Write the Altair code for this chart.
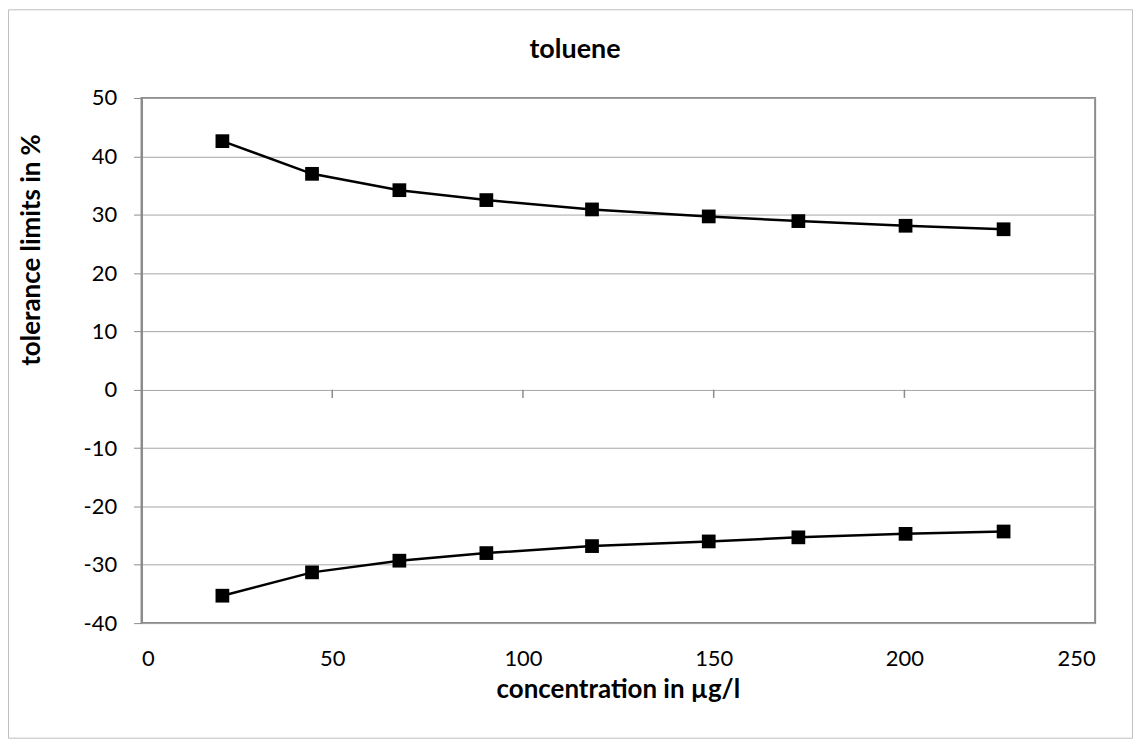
import altair as alt
import pandas as pd

concentration = [21.2, 44.7, 67.6, 90.4, 118.1, 148.7, 172.2, 200.3, 226.0]
upper_limit = [42.6, 37.0, 34.2, 32.5, 30.9, 29.7, 28.9, 28.1, 27.5]
lower_limit = [-35.3, -31.3, -29.3, -28.0, -26.8, -26.0, -25.3, -24.7, -24.3]
x_ticks = [0, 50, 100, 150, 200, 250]
y_ticks = [-40, -30, -20, -10, 0, 10, 20, 30, 40, 50]
zero_ticks = [50, 100, 150, 200]

W, H = 957, 527
FONT = "Lato"

rows = []
for c, u in zip(concentration, upper_limit):
    rows.append({"conc": c, "val": u, "limit": "upper"})
for c, l in zip(concentration, lower_limit):
    rows.append({"conc": c, "val": l, "limit": "lower"})
df = pd.DataFrame(rows)

xs = alt.Scale(domain=[0, 250], nice=False, zero=False)
ys = alt.Scale(domain=[-40, 50], nice=False, zero=False)

x_enc = alt.X("conc:Q", scale=xs, axis=alt.Axis(
    values=x_ticks, title="concentration in µg/l", ticks=False, domain=False,
    grid=False, labelPadding=26, labelFontSize=22, labelFont=FONT, labelColor="black",
    labelExpr="datum.value + ''",
    titleFont=FONT, titleFontSize=26, titleFontWeight="bold", titleColor="black",
    titleX=478, titleY=67, titleBaseline="middle", titleAnchor="middle", titleAlign="center"))
y_enc = alt.Y("val:Q", scale=ys, axis=alt.Axis(
    values=y_ticks, title="tolerance limits in %", tickSize=8, tickColor="#8c8c8c",
    domainColor="#8c8c8c", domainWidth=2, gridColor="#a6a6a6", gridWidth=1,
    labelPadding=17, labelFontSize=22, labelFont=FONT, labelColor="black",
    labelExpr="datum.value + ''",
    titleFont=FONT, titleFontSize=26, titleFontWeight="bold", titleColor="black",
    titleX=-110, titleY=152, titleBaseline="middle", titleAlign="center", titleAngle=-90))

lines = alt.Chart(df).mark_line(color="black", strokeWidth=2.5).encode(
    x=x_enc, y=y_enc, detail="limit:N")
points = alt.Chart(df).mark_point(shape="square", filled=True, color="black",
                                  size=190, opacity=1).encode(
    x=alt.X("conc:Q", scale=xs), y=alt.Y("val:Q", scale=ys), detail="limit:N")

tick_df = pd.DataFrame({"t": zero_ticks, "y0": [0] * len(zero_ticks),
                        "y1": [-1.4] * len(zero_ticks)})
zticks = alt.Chart(tick_df).mark_rule(color="#8c8c8c", strokeWidth=1.5).encode(
    x=alt.X("t:Q", scale=xs), y=alt.Y("y0:Q", scale=ys), y2="y1:Q")

title_df = pd.DataFrame({"txt": ["toluene"]})
title = alt.Chart(title_df).mark_text(font=FONT, fontSize=27, fontWeight="bold",
                                      color="black", baseline="alphabetic",
                                      align="center").encode(
    text="txt:N", x=alt.value(435), y=alt.value(-40))

border = alt.Chart(title_df).mark_rect(fill=None, stroke="#bfbfbf", strokeWidth=1).encode(
    x=alt.value(-133.5), x2=alt.value(W + 37.5), y=alt.value(-88.5), y2=alt.value(H + 115.5))

chart = alt.layer(border, zticks, lines, points, title).properties(
    width=W, height=H, autosize="none",
    padding={"left": 134, "top": 89, "right": 38, "bottom": 117},
    background="white",
).configure_view(stroke="#8c8c8c", strokeWidth=2)

chart.save("out.html", embed_options={"renderer": "svg", "actions": False})
